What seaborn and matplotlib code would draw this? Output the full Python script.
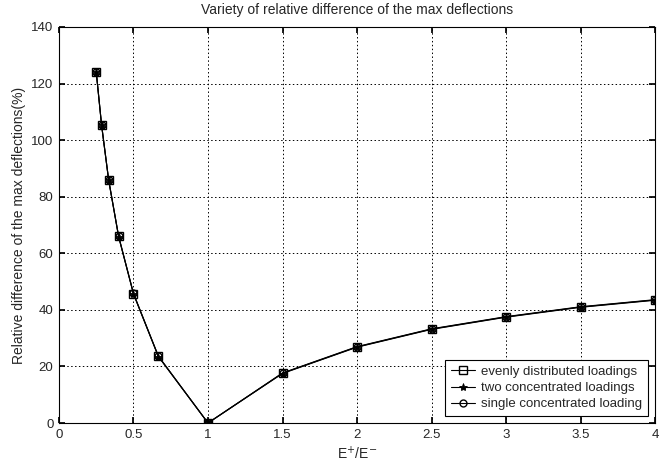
import matplotlib
matplotlib.use("Agg")
import matplotlib.pyplot as plt
import seaborn as sns
import pandas as pd

ratio = [0.25, 0.2857, 1/3, 0.4, 0.5, 2/3, 1.0, 1.5, 2.0, 2.5, 3.0, 3.5, 4.0]
evenly = [124.2, 105.4, 85.9, 66.0, 45.7, 23.6, 0.0, 17.6, 26.9, 33.2, 37.5, 41.0, 43.5]
two_conc = [124.0, 105.3, 85.8, 65.9, 45.6, 23.5, 0.0, 17.5, 26.8, 33.1, 37.4, 40.9, 43.4]
single_conc = [124.1, 105.5, 86.0, 66.1, 45.8, 23.7, 0.0, 17.7, 27.0, 33.3, 37.6, 41.1, 43.6]
labels = ["evenly distributed loadings", "two concentrated loadings", "single concentrated loading"]
x_ticks = [0, 0.5, 1, 1.5, 2, 2.5, 3, 3.5, 4]
x_tick_labels = ["0", "0.5", "1", "1.5", "2", "2.5", "3", "3.5", "4"]
y_ticks = [0, 20, 40, 60, 80, 100, 120, 140]

sns.set_theme(style="white")
plt.rcParams['font.family'] = ['Liberation Sans', 'DejaVu Sans']

fig = plt.figure(figsize=(6.65, 4.62), dpi=100)
ax = fig.add_axes([0.0887, 0.0844, 0.8963, 0.8572])

styles = [dict(marker="s", markersize=6, markerfacecolor="none", markeredgewidth=1.0),
          dict(marker="*", markersize=6, markerfacecolor="black", markeredgewidth=0.6),
          dict(marker="o", markersize=5, markerfacecolor="none", markeredgewidth=1.0)]
for vals, lab, st in zip([evenly, two_conc, single_conc], labels, styles):
    df = pd.DataFrame({"x": ratio, "y": vals})
    sns.lineplot(data=df, x="x", y="y", ax=ax, color="black", linewidth=0.8,
                 markeredgecolor="black", label=lab, sort=False, **st)

ax.set_xlim(0, 4)
ax.set_ylim(0, 140)
ax.set_xticks(x_ticks)
ax.set_xticklabels(x_tick_labels)
ax.set_yticks(y_ticks)
ax.grid(True, color="black", linestyle=(0, (1.5, 2.5)), linewidth=0.7)
for s in ax.spines.values():
    s.set_color("black")
    s.set_linewidth(0.8)
ax.tick_params(direction="in", length=4, color="black", labelsize=9.5,
               top=True, right=True, bottom=True, left=True, pad=4)
ax.set_title("Variety of relative difference of the max deflections", fontsize=10, pad=9)
ax.set_xlabel("E$^{+}$/E$^{-}$", fontsize=10, labelpad=3)
ax.set_ylabel("Relative difference of the max deflections(%)", fontsize=10, labelpad=4)
leg = ax.legend(loc="lower right", fontsize=9.5, frameon=True, fancybox=False,
                edgecolor="black", framealpha=1, borderaxespad=0.5, handlelength=1.8,
                handletextpad=0.5, labelspacing=0.3, borderpad=0.45)
leg.get_frame().set_linewidth(0.8)

fig.savefig("out.png", dpi=100)
